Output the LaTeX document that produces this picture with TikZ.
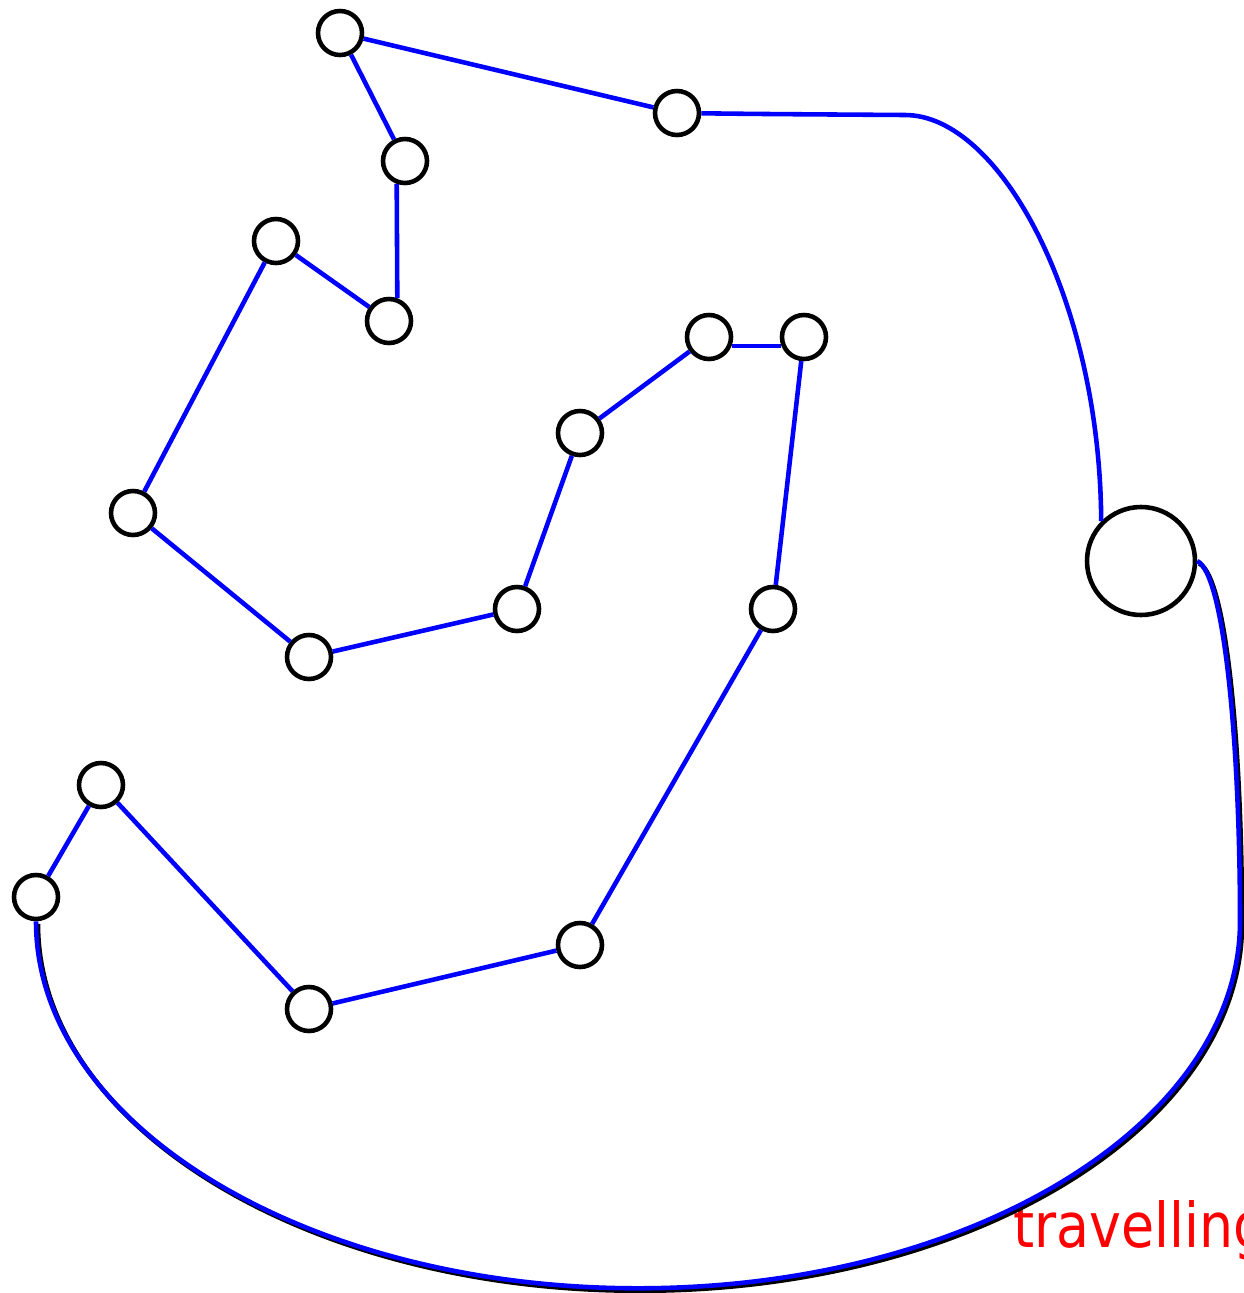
\documentclass[tikz,border=0pt]{standalone}
\usepackage{fontspec}
\setmainfont{DejaVu Sans}
\usepackage{graphicx}
\usepackage{tikz}
\usetikzlibrary{positioning}

\begin{document}
\begin{tikzpicture}[
  city/.style={circle,draw=black,line width=1.3pt,minimum size=0.44cm,inner sep=0pt},
  depot/.style={circle,draw=black,line width=1.3pt,minimum size=1.08cm,inner sep=0pt},
  tour/.style={draw=blue,line width=1.3pt},
  under/.style={draw=black,line width=1.3pt,transform canvas={shift={(0.02,-0.025)}}},
  tag/.style={text=red,anchor=base west,inner sep=0pt,font=\fontsize{17.6}{20}\selectfont}
]
  \useasboundingbox (0,0) rectangle (12.43,-12.93);
  \node[city] (c1)  at (3.40,-0.33)  {};
  \node[city] (c2)  at (6.77,-1.13)  {};
  \node[city] (c3)  at (4.05,-1.61)  {};
  \node[city] (c4)  at (2.76,-2.41)  {};
  \node[city] (c5)  at (3.89,-3.21)  {};
  \node[city] (c6)  at (7.09,-3.37)  {};
  \node[city] (c7)  at (8.04,-3.37)  {};
  \node[city] (c8)  at (5.80,-4.33)  {};
  \node[city] (c9)  at (1.33,-5.13)  {};
  \node[city] (c10) at (5.17,-6.09)  {};
  \node[city] (c11) at (7.73,-6.09)  {};
  \node[city] (c12) at (3.09,-6.57)  {};
  \node[city] (c13) at (1.01,-7.85)  {};
  \node[city] (c14) at (0.36,-8.97)  {};
  \node[city] (c15) at (5.80,-9.45)  {};
  \node[city] (c16) at (3.09,-10.09) {};
  \node[depot] (hub) at (11.41,-5.61) {};
  \node[tag] (label) at (10.13,-12.47) {\scalebox{0.87}[1]{travelling}};
  \draw[tour](c1)--(c2);
  \draw[tour](c1)--(c3);
  \draw[tour](c3.250)--(c5.70);
  \draw[tour](c5)--(c4);
  \draw[tour](c4)--(c9);
  \draw[tour](c9)--(c12);
  \draw[tour](c12)--(c10);
  \draw[tour](c10)--(c8);
  \draw[tour](c8)--(c6);
  \draw[tour](c6.-22)--(c7.202);
  \draw[tour](c7)--(c11);
  \draw[tour](c11)--(c15);
  \draw[tour](c15)--(c16);
  \draw[tour](c16)--(c13);
  \draw[tour](c13)--(c14);
  \draw[tour](c2) .. controls (7.60,-1.14) .. (9.05,-1.15)
                  .. controls (10.00,-1.15) and (11.00,-3.00) .. (hub.north west);
  \draw[under](c14.south) arc[start angle=180,end angle=360,x radius=6.02,y radius=3.67]
               .. controls (12.40,-7.50) and (12.25,-5.75) .. (hub.east);
  \draw[tour] (c14.south) arc[start angle=180,end angle=360,x radius=6.02,y radius=3.67]
               .. controls (12.40,-7.50) and (12.25,-5.75) .. (hub.east);
\end{tikzpicture}
\end{document}
